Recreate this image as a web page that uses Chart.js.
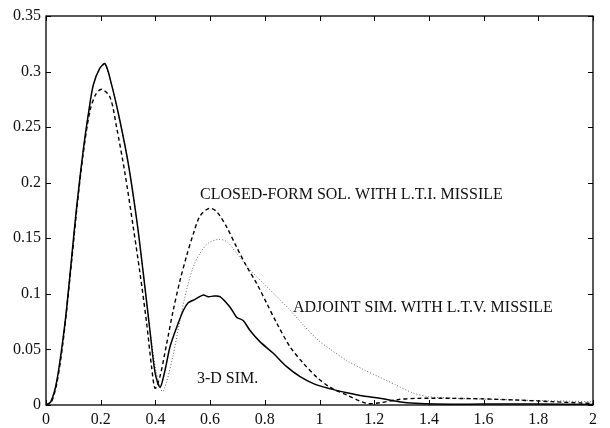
<!DOCTYPE html>
<html>
<head>
<meta charset="utf-8">
<script src="https://cdn.jsdelivr.net/npm/chart.js@4.4.1/dist/chart.umd.min.js"></script>
<style>
  html, body { margin: 0; padding: 0; background: #fff; }
  #wrap { width: 610px; height: 428px; position: relative; }
</style>
</head>
<body>
<div id="wrap"><canvas id="c" width="610" height="428"></canvas></div>
<script>
// ---- Data ----
const xTickValues = [0, 0.2, 0.4, 0.6, 0.8, 1, 1.2, 1.4, 1.6, 1.8, 2];
const xTickLabels = ['0', '0.2', '0.4', '0.6', '0.8', '1', '1.2', '1.4', '1.6', '1.8', '2'];
const yTickValues = [0, 0.05, 0.1, 0.15, 0.2, 0.25, 0.3, 0.35];
const yTickLabels = ['0', '0.05', '0.1', '0.15', '0.2', '0.25', '0.3', '0.35'];

// 3-D SIM. (solid)
const sim3dX = [0, 0.018, 0.039, 0.063, 0.076, 0.094, 0.112, 0.136, 0.155, 0.173, 0.197, 0.216, 0.240, 0.27, 0.301, 0.332, 0.356, 0.380, 0.399, 0.417, 0.435, 0.453, 0.478, 0.502, 0.52, 0.545, 0.575, 0.593, 0.615, 0.636, 0.673, 0.697, 0.721, 0.746, 0.782, 0.831, 0.88, 0.929, 0.98, 1.04, 1.1, 1.16, 1.22, 1.29, 1.35, 1.42, 1.6, 1.8, 2.0];
const sim3dY = [0, 0.003, 0.021, 0.061, 0.088, 0.133, 0.178, 0.229, 0.262, 0.288, 0.303, 0.307, 0.288, 0.256, 0.217, 0.166, 0.118, 0.067, 0.029, 0.016, 0.031, 0.052, 0.070, 0.085, 0.092, 0.095, 0.099, 0.0975, 0.098, 0.0975, 0.088, 0.079, 0.076, 0.067, 0.057, 0.0465, 0.0345, 0.0255, 0.019, 0.0145, 0.011, 0.008, 0.006, 0.003, 0.0015, 0.0008, 0.0008, 0.0008, 0.0005];

// CLOSED-FORM SOL. WITH L.T.I. MISSILE (dashed)
const closedX = [0, 0.02, 0.04, 0.063, 0.094, 0.112, 0.136, 0.161, 0.183, 0.204, 0.234, 0.258, 0.289, 0.319, 0.344, 0.368, 0.386, 0.399, 0.417, 0.441, 0.465, 0.49, 0.515, 0.54, 0.563, 0.597, 0.624, 0.661, 0.697, 0.734, 0.77, 0.807, 0.844, 0.892, 0.941, 0.99, 1.038, 1.1, 1.172, 1.22, 1.29, 1.36, 1.48, 1.6, 1.72, 1.85, 1.96, 2.0];
const closedY = [0, 0.003, 0.02, 0.058, 0.13, 0.175, 0.226, 0.265, 0.280, 0.284, 0.277, 0.250, 0.208, 0.160, 0.118, 0.0735, 0.0345, 0.015, 0.026, 0.055, 0.085, 0.112, 0.135, 0.155, 0.170, 0.177, 0.174, 0.160, 0.142, 0.1245, 0.1095, 0.0915, 0.0735, 0.0525, 0.0375, 0.025, 0.016, 0.009, 0.0015, 0.002, 0.005, 0.006, 0.006, 0.0055, 0.0045, 0.003, 0.0018, 0.0015];

// ADJOINT SIM. WITH L.T.V. MISSILE (dotted)
const adjointX = [0, 0.018, 0.039, 0.063, 0.094, 0.136, 0.173, 0.197, 0.216, 0.240, 0.27, 0.301, 0.332, 0.356, 0.380, 0.403, 0.425, 0.44, 0.465, 0.49, 0.514, 0.539, 0.563, 0.593, 0.63, 0.661, 0.697, 0.746, 0.795, 0.844, 0.892, 0.941, 0.99, 1.04, 1.1, 1.16, 1.22, 1.28, 1.34, 1.4, 1.5, 1.65, 1.8, 2.0];
const adjointY = [0, 0.003, 0.021, 0.061, 0.133, 0.229, 0.288, 0.303, 0.306, 0.288, 0.256, 0.217, 0.166, 0.118, 0.067, 0.03, 0.012, 0.02, 0.045, 0.0765, 0.1035, 0.1245, 0.1365, 0.1455, 0.149, 0.147, 0.1365, 0.1215, 0.1095, 0.0975, 0.0855, 0.072, 0.0595, 0.050, 0.040, 0.032, 0.025, 0.018, 0.011, 0.0075, 0.006, 0.005, 0.004, 0.003];

// Text labels placed in data coordinates
const curveLabels = ['CLOSED-FORM SOL. WITH L.T.I. MISSILE', 'ADJOINT SIM. WITH L.T.V. MISSILE', '3-D SIM.'];
const curveLabelX = [0.563, 0.903, 0.552];
const curveLabelY = [0.189, 0.0873, 0.0234];

function pts(xs, ys) { return xs.map((x, i) => ({ x: x, y: ys[i] })); }

const FONT = '"Liberation Serif", "Times New Roman", serif';

const framePlugin = {
  id: 'frame',
  afterDatasetsDraw(chart) {
    const { ctx, chartArea: a, scales } = chart;
    ctx.save();
    ctx.strokeStyle = '#000';
    ctx.lineWidth = 1.3;
    ctx.strokeRect(a.left, a.top, a.right - a.left, a.bottom - a.top);
    const tl = 5;
    ctx.lineWidth = 1;
    ctx.beginPath();
    xTickValues.forEach(v => {
      const px = Math.round(scales.x.getPixelForValue(v)) + 0.5;
      ctx.moveTo(px, a.bottom); ctx.lineTo(px, a.bottom - tl);
      ctx.moveTo(px, a.top); ctx.lineTo(px, a.top + tl);
    });
    yTickValues.forEach(v => {
      const py = Math.round(scales.y.getPixelForValue(v)) + 0.5;
      ctx.moveTo(a.left, py); ctx.lineTo(a.left + tl, py);
      ctx.moveTo(a.right, py); ctx.lineTo(a.right - tl, py);
    });
    ctx.stroke();
    // curve labels
    ctx.fillStyle = '#111';
    ctx.font = '16px ' + FONT;
    ctx.textBaseline = 'middle';
    ctx.textAlign = 'left';
    curveLabels.forEach((t, i) => {
      ctx.fillText(t, scales.x.getPixelForValue(curveLabelX[i]), scales.y.getPixelForValue(curveLabelY[i]));
    });
    ctx.restore();
  }
};

new Chart(document.getElementById('c'), {
  type: 'line',
  data: {
    datasets: [
      { label: '3-D SIM.', data: pts(sim3dX, sim3dY), borderColor: '#000', borderWidth: 1.5, pointRadius: 0, tension: 0.3, fill: false },
      { label: 'CLOSED-FORM', data: pts(closedX, closedY), borderColor: '#000', borderWidth: 1.4, borderDash: [4, 3], pointRadius: 0, tension: 0.3, fill: false },
      { label: 'ADJOINT', data: pts(adjointX, adjointY), borderColor: '#666', borderWidth: 1, borderDash: [1, 2], pointRadius: 0, tension: 0.3, fill: false }
    ]
  },
  options: {
    responsive: false,
    animation: false,
    devicePixelRatio: 1,
    layout: { padding: { top: 16, right: 17, left: 0, bottom: 0 } },
    plugins: { legend: { display: false }, tooltip: { enabled: false } },
    scales: {
      x: {
        type: 'linear', min: 0, max: 2,
        grid: { display: false, drawTicks: false, tickLength: 0 },
        border: { display: false },
        afterBuildTicks(s) { s.ticks = xTickValues.map(v => ({ value: v })); },
        afterFit(s) { s.height = 23; },
        ticks: {
          color: '#111', padding: 5, maxRotation: 0, autoSkip: false,
          font: { family: FONT, size: 16 },
          callback: (v) => { const i = xTickValues.indexOf(v); return i >= 0 ? xTickLabels[i] : ''; }
        }
      },
      y: {
        type: 'linear', min: 0, max: 0.35,
        grid: { display: false, drawTicks: false, tickLength: 0 },
        border: { display: false },
        afterBuildTicks(s) { s.ticks = yTickValues.map(v => ({ value: v })); },
        afterFit(s) { s.width = 46; },
        ticks: {
          color: '#111', padding: 5, autoSkip: false,
          font: { family: FONT, size: 16 },
          callback: (v) => { const i = yTickValues.indexOf(v); return i >= 0 ? yTickLabels[i] : ''; }
        }
      }
    }
  },
  plugins: [framePlugin]
});
</script>
</body>
</html>
